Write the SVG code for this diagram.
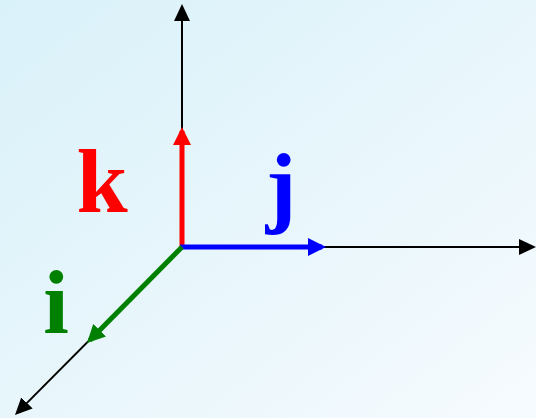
<svg xmlns="http://www.w3.org/2000/svg" width="536" height="418" viewBox="0 0 536 418">
  <defs>
    <linearGradient id="bg" x1="0" y1="0" x2="1" y2="1">
      <stop offset="0" stop-color="#d9f1f9"/>
      <stop offset="1" stop-color="#f6fbfe"/>
    </linearGradient>
    <marker id="hk" markerUnits="userSpaceOnUse" markerWidth="17" markerHeight="16" refX="14" refY="8" orient="auto" viewBox="0 0 17 16">
      <path d="M0,0 L17,8 L0,16 z" fill="#000"/>
    </marker>
    <marker id="hr" markerUnits="userSpaceOnUse" markerWidth="18" markerHeight="18" refX="14" refY="9" orient="auto" viewBox="0 0 18 18">
      <path d="M0,0 L18,9 L0,18 z" fill="#ff0000"/>
    </marker>
    <marker id="hb" markerUnits="userSpaceOnUse" markerWidth="18" markerHeight="18" refX="14" refY="9" orient="auto" viewBox="0 0 18 18">
      <path d="M0,0 L18,9 L0,18 z" fill="#0000ff"/>
    </marker>
    <marker id="hg" markerUnits="userSpaceOnUse" markerWidth="18" markerHeight="18" refX="14" refY="9" orient="auto" viewBox="0 0 18 18">
      <path d="M0,0 L18,9 L0,18 z" fill="#008000"/>
    </marker>
  </defs>
  <style>
    .ax { stroke: #000; stroke-width: 2; fill: none; }
    .vec { stroke-width: 5; fill: none; }
    .lbl { font-family: "Liberation Serif", "Times New Roman", serif; font-weight: bold; font-size: 92px; text-anchor: middle; }
  </style>
  <rect x="0" y="0" width="536" height="418" fill="url(#bg)"/>
  <g id="connectors">
    <line class="ax" x1="182" y1="246" x2="182" y2="7" marker-end="url(#hk)"/>
    <line class="ax" x1="182" y1="247" x2="533" y2="247" marker-end="url(#hk)"/>
    <line class="ax" x1="182" y1="247" x2="17.1" y2="412.9" marker-end="url(#hk)"/>
    <line class="vec" stroke="#ff0000" x1="182" y1="248" x2="182" y2="131" marker-end="url(#hr)"/>
    <line class="vec" stroke="#0000ff" x1="180" y1="247" x2="322" y2="247" marker-end="url(#hb)"/>
    <line class="vec" stroke="#008000" x1="182" y1="247" x2="89.8" y2="340.2" marker-end="url(#hg)"/>
  </g>
  <g id="label-k"><text class="lbl" x="102" y="212" fill="#ff0000">k</text></g>
  <g id="label-j"><text class="lbl" x="281" y="216" fill="#0000ff">j</text></g>
  <g id="label-i"><text class="lbl" x="56" y="333" fill="#008000">i</text></g>
</svg>
